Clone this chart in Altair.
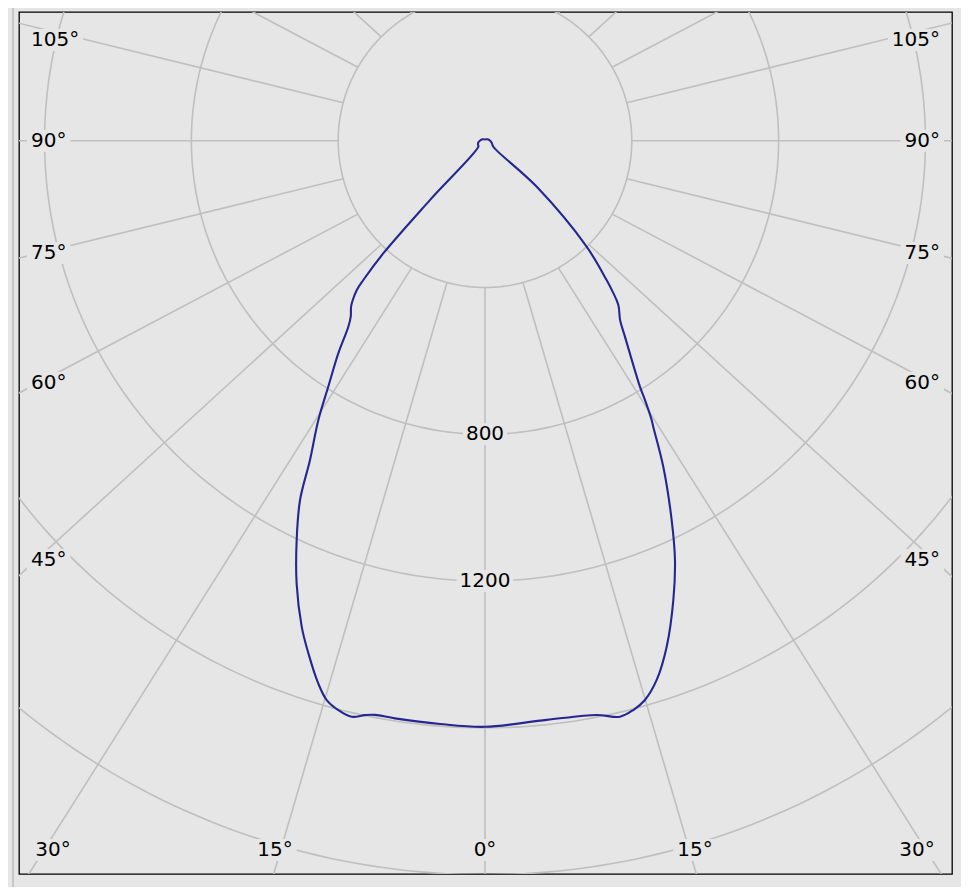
import math
import numpy as np
import pandas as pd
import altair as alt

# ---------------- data ----------------
# luminous intensity vs. gamma angle; negative gamma = right half of the diagram
gamma_right = [-180, -150, -120, -90, -70, -54, -48.3, -43.8, -41.1, -40.1,
               -39.05, -36.98, -35.54, -32.21, -31.67, -30.83, -30.47, -28.68, -26.2, -24.38,
               -22.29, -19.75, -17.66, -15.96, -14.6, -13.19, -11.0, -6.08]
I_right = [3, 4, 8, 14, 20, 28, 189, 400, 504, 543,
           577, 612, 656, 792, 830, 886, 904, 1012, 1152, 1254,
           1353, 1465, 1542, 1585, 1603, 1612, 1594, 1587]
gamma_left = [0, 4.4, 8.86, 10.84, 11.8, 13.03, 14.45, 15.8, 17.08, 19.02,
              20.67, 23.05, 25.25, 27.24, 28.73, 30.83, 32.5, 34.6, 36.3, 37.35,
              38.91, 39.7, 40.67, 41.14, 42.08, 42.84, 48, 60, 75, 90,
              120, 150, 180]
I_left = [1597, 1594, 1593, 1593, 1599, 1611, 1602, 1584, 1547, 1477,
          1415, 1311, 1203, 1101, 992, 886, 795, 704, 629, 603,
          581, 564, 536, 504, 413, 220, 24, 22, 19, 14,
          8, 4, 3]

grid_radii = [400, 800, 1200, 1600, 2000, 2400]
ray_angles = list(range(0, 360, 15))
radius_labels = [800, 1200]
side_label_angles = [45, 60, 75, 90, 105]
bottom_label_angles = [30, 15, 0, -15, -30]   # positive = left side

# ---------------- layout ----------------
W, H = 933, 862
K = 400 / 146.8                     # units per pixel
CX, CY = 466.0, 128.7               # pole position inside the plot (px)
XMIN, XMAX = -CX * K, (W - CX) * K
YMIN, YMAX = -(H - CY) * K, CY * K
RAY_S = 0.92
BG = "#e6e6e6"
GRID = "#bfbfbf"
FS = 20
FONT = "DejaVu Sans"


def to_data(px, py):
    return XMIN + px * K, YMAX - py * K


def tw(s):
    return sum(0.636 * FS if c.isdigit() else 0.5 * FS for c in s)


xs = alt.Scale(domain=[XMIN, XMAX], nice=False, zero=False)
ys = alt.Scale(domain=[YMIN, YMAX], nice=False, zero=False)

# curve
gam = gamma_right + gamma_left
inten = I_right + I_left
curve = pd.DataFrame({"g": gam, "I": inten})
curve["x"] = -curve["I"] * np.sin(np.radians(curve["g"]))
curve["y"] = -curve["I"] * np.cos(np.radians(curve["g"]))
curve["i"] = range(len(curve))

# circles
rows = []
for r in grid_radii:
    for j, t in enumerate(range(0, 361, 1)):
        a = math.radians(t)
        rows.append({"r": r, "i": j, "x": r * math.sin(a), "y": r * math.cos(a)})
circ = pd.DataFrame(rows)

# rays
rows = []
for t in ray_angles:
    a = math.radians(t)
    R = 6000
    rows.append({"x": -400 * math.sin(a), "y": -400 * math.cos(a),
                 "x2": -R * math.sin(a), "y2": -RAY_S * R * math.cos(a)})
rays = pd.DataFrame(rows)

# labels
lab_l, lab_r, lab_c, boxes = [], [], [], []


def add_box(x1, x2, yc, hh=11):
    a, b = to_data(x1, yc - hh)
    c, d = to_data(x2, yc + hh)
    boxes.append({"x": a, "x2": c, "y": b, "y2": d})


for th in side_label_angles:
    txt = f"{th}°"
    w = tw(txt)
    cy = max(CY + 466 * (1 / math.tan(math.radians(th))) * 0.9, 28)
    # left
    x, y = to_data(12, cy)
    lab_l.append({"t": txt, "x": x, "y": y})
    add_box(8, 12 + w + 4, cy)
    # right
    x, y = to_data(921, cy)
    lab_r.append({"t": txt, "x": x, "y": y})
    add_box(921 - w - 4, 925, cy)

for th in bottom_label_angles:
    txt = f"{abs(th)}°"
    w = tw(txt)
    dx = 733 * math.tan(math.radians(abs(th))) / 0.935
    dx = min(dx, 432)
    cx = CX - dx if th > 0 else CX + dx
    x, y = to_data(cx, 838)
    lab_c.append({"t": txt, "x": x, "y": y})
    add_box(cx - w / 2 - 4, cx + w / 2 + 4, 838)

for r in radius_labels:
    txt = str(r)
    w = tw(txt)
    cy = CY + r / K
    x, y = to_data(CX, cy)
    lab_c.append({"t": txt, "x": x, "y": y})
    add_box(CX - w / 2 - 3, CX + w / 2 + 3, cy)

X = lambda f="x": alt.X(f"{f}:Q", scale=xs, axis=None)
Y = lambda f="y": alt.Y(f"{f}:Q", scale=ys, axis=None)

circ_layer = alt.Chart(circ).mark_line(clip=True, color=GRID, strokeWidth=1.6).encode(
    x=X(), y=Y(), detail="r:N", order="i:Q")
ray_layer = alt.Chart(rays).mark_rule(clip=True, color=GRID, strokeWidth=1.6).encode(
    x=X(), y=Y(), x2="x2:Q", y2="y2:Q")
curve_layer = alt.Chart(curve).mark_line(
    clip=True, color="#262690", strokeWidth=2.1, interpolate="catmull-rom"
).encode(x=X(), y=Y(), order="i:Q")
box_layer = alt.Chart(pd.DataFrame(boxes)).mark_rect(color=BG).encode(
    x=X(), x2="x2:Q", y=Y(), y2="y2:Q")


def text_layer(rows, align):
    return alt.Chart(pd.DataFrame(rows)).mark_text(
        align=align, baseline="middle", font=FONT, fontSize=FS, color="black"
    ).encode(x=X(), y=Y(), text="t:N")


side_line = alt.Chart(pd.DataFrame({"v": [0]})).mark_rule(color="#a9a9a9", strokeWidth=1).encode(
    x=alt.value(-6), y=alt.value(-7), y2=alt.value(876))

chart = alt.layer(
    circ_layer, ray_layer, curve_layer, box_layer,
    text_layer(lab_l, "left"), text_layer(lab_r, "right"), text_layer(lab_c, "center"),
    side_line,
).properties(
    width=W, height=H, background=BG, autosize="none",
    padding={"left": 11, "top": 4, "right": 9, "bottom": 13},
).configure_view(stroke="black", strokeWidth=1.3, fill=BG)

chart.save("out.html", embed_options={"renderer": "svg", "actions": False})
